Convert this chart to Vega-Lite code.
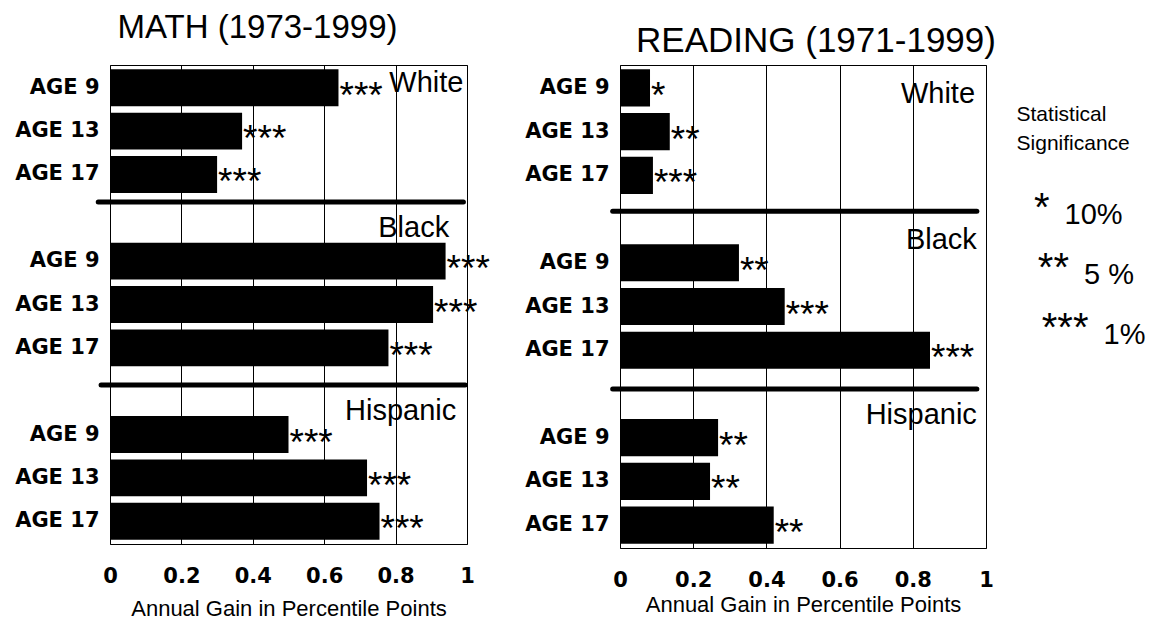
{
  "$schema": "https://vega.github.io/schema/vega-lite/v6.json",
  "background": "white",
  "padding": {"left": 14, "top": 11, "right": 0, "bottom": 0},
  "config": {
    "font": "Liberation Sans",
    "view": {"stroke": "black", "strokeWidth": 1},
    "text": {"color": "black"}
  },
  "datasets": {
    "math": [
      {"row": "White AGE 9", "gain": 0.64, "sig": "***"},
      {"row": "White AGE 13", "gain": 0.37, "sig": "***"},
      {"row": "White AGE 17", "gain": 0.30, "sig": "***"},
      {"row": "Black AGE 9", "gain": 0.94, "sig": "***"},
      {"row": "Black AGE 13", "gain": 0.905, "sig": "***"},
      {"row": "Black AGE 17", "gain": 0.78, "sig": "***"},
      {"row": "Hispanic AGE 9", "gain": 0.50, "sig": "***"},
      {"row": "Hispanic AGE 13", "gain": 0.72, "sig": "***"},
      {"row": "Hispanic AGE 17", "gain": 0.755, "sig": "***"}
    ],
    "reading": [
      {"row": "White AGE 9", "gain": 0.082, "sig": "*"},
      {"row": "White AGE 13", "gain": 0.136, "sig": "**"},
      {"row": "White AGE 17", "gain": 0.09, "sig": "***"},
      {"row": "Black AGE 9", "gain": 0.325, "sig": "**"},
      {"row": "Black AGE 13", "gain": 0.45, "sig": "***"},
      {"row": "Black AGE 17", "gain": 0.847, "sig": "***"},
      {"row": "Hispanic AGE 9", "gain": 0.268, "sig": "**"},
      {"row": "Hispanic AGE 13", "gain": 0.246, "sig": "**"},
      {"row": "Hispanic AGE 17", "gain": 0.42, "sig": "**"}
    ],
    "groups": [
      {"row": "White AGE 9", "label": "White"},
      {"row": "Black", "label": "Black"},
      {"row": "Hispanic", "label": "Hispanic"}
    ],
    "legend": [
      {"level": "head", "text": "Statistical\nSignificance"},
      {"level": "10%", "stars": "*", "n": 1},
      {"level": "5 %", "stars": "**", "n": 2},
      {"level": "1%", "stars": "***", "n": 3}
    ]
  },
  "bounds": "flush",
  "spacing": 153,
  "hconcat": [
    {
      "width": 357,
      "height": 479,
      "title": {"text": "MATH (1973-1999)", "fontSize": 33, "fontWeight": "normal", "font": "Liberation Sans", "color": "black", "baseline": "alphabetic", "offset": -6, "anchor": "middle", "frame": "group", "dx": -31},
      "layer": [
        {
          "data": {"name": "math"},
          "mark": {"type": "bar", "color": "black"},
          "encoding": {
            "y": {
              "field": "row", "type": "nominal",
              "scale": {"domain": ["White AGE 9", "White AGE 13", "White AGE 17", "Black", "Black AGE 9", "Black AGE 13", "Black AGE 17", "Hispanic", "Hispanic AGE 9", "Hispanic AGE 13", "Hispanic AGE 17"], "paddingInner": 0.15, "paddingOuter": 0.1},
              "axis": {"title": null, "domain": false, "ticks": false, "tickSize": 0, "grid": false, "labelFont": "DejaVu Sans", "labelFontWeight": "bold", "labelFontSize": 21, "labelColor": "black", "labelPadding": 11, "labelLimit": 0, "labelExpr": "indexof(datum.value, 'AGE') >= 0 ? substring(datum.value, indexof(datum.value, 'AGE')) : ''"}
            },
            "x": {
              "field": "gain", "type": "quantitative",
              "scale": {"domain": [0, 1], "nice": false},
              "axis": {"title": "Annual Gain in Percentile Points", "values": [0, 0.2, 0.4, 0.6, 0.8, 1], "format": "~g", "grid": true, "gridColor": "black", "gridWidth": 1, "gridOpacity": 1, "domain": false, "ticks": false, "tickSize": 0, "labelFlush": false, "labelFont": "DejaVu Sans", "labelFontWeight": "bold", "labelFontSize": 21, "labelColor": "black", "labelPadding": 21, "titleFont": "Liberation Sans", "titleFontWeight": "normal", "titleFontSize": 22, "titleColor": "black", "titlePadding": 12}
            }
          }
        },
        {
          "data": {"name": "math"},
          "mark": {"type": "text", "align": "left", "baseline": "alphabetic", "fontSize": 37, "dx": 1, "dy": 20},
          "encoding": {
            "y": {"field": "row", "type": "nominal"},
            "x": {"field": "gain", "type": "quantitative", "scale": {"domain": [0, 1], "nice": false}},
            "text": {"field": "sig"}
          }
        },
        {
          "data": {"name": "groups"},
          "transform": [{"filter": "datum.label == 'Black'"}],
          "mark": {"type": "rule", "color": "black", "strokeWidth": 5, "strokeCap": "round"},
          "encoding": {
            "y": {"field": "row", "type": "nominal", "bandPosition": 0.07},
            "x": {"datum": -0.033, "type": "quantitative", "scale": {"domain": [0, 1], "nice": false}},
            "x2": {"datum": 0.99}
          }
        },
        {
          "data": {"name": "groups"},
          "transform": [{"filter": "datum.label == 'Hispanic'"}],
          "mark": {"type": "rule", "color": "black", "strokeWidth": 5, "strokeCap": "round"},
          "encoding": {
            "y": {"field": "row", "type": "nominal", "bandPosition": 0.33},
            "x": {"datum": -0.025, "type": "quantitative", "scale": {"domain": [0, 1], "nice": false}},
            "x2": {"datum": 0.995}
          }
        },
        {
          "data": {"name": "groups"},
          "transform": [{"filter": "datum.label == 'White'"}],
          "mark": {"type": "text", "align": "right", "baseline": "middle", "fontSize": 29, "dy": -5},
          "encoding": {
            "y": {"field": "row", "type": "nominal"},
            "x": {"datum": 0.99, "type": "quantitative", "scale": {"domain": [0, 1], "nice": false}},
            "text": {"field": "label"}
          }
        },
        {
          "data": {"name": "groups"},
          "transform": [{"filter": "datum.label == 'Black'"}],
          "mark": {"type": "text", "align": "right", "baseline": "middle", "fontSize": 29, "dy": 10},
          "encoding": {
            "y": {"field": "row", "type": "nominal"},
            "x": {"datum": 0.95, "type": "quantitative", "scale": {"domain": [0, 1], "nice": false}},
            "text": {"field": "label"}
          }
        },
        {
          "data": {"name": "groups"},
          "transform": [{"filter": "datum.label == 'Hispanic'"}],
          "mark": {"type": "text", "align": "right", "baseline": "middle", "fontSize": 29, "dy": 20},
          "encoding": {
            "y": {"field": "row", "type": "nominal"},
            "x": {"datum": 0.97, "type": "quantitative", "scale": {"domain": [0, 1], "nice": false}},
            "text": {"field": "label"}
          }
        }
      ]
    },
    {
      "bounds": "flush",
      "spacing": 20,
      "hconcat": [
        {
          "width": 366,
          "height": 483,
          "title": {"text": "READING (1971-1999)", "fontSize": 35, "fontWeight": "normal", "font": "Liberation Sans", "color": "black", "baseline": "alphabetic", "offset": -22, "anchor": "middle", "frame": "group", "dx": 13},
          "layer": [
            {
              "data": {"name": "reading"},
              "mark": {"type": "bar", "color": "black"},
              "encoding": {
                "y": {
                  "field": "row", "type": "nominal",
                  "scale": {"domain": ["White AGE 9", "White AGE 13", "White AGE 17", "Black", "Black AGE 9", "Black AGE 13", "Black AGE 17", "Hispanic", "Hispanic AGE 9", "Hispanic AGE 13", "Hispanic AGE 17"], "paddingInner": 0.15, "paddingOuter": 0.1},
                  "axis": {"title": null, "domain": false, "ticks": false, "tickSize": 0, "grid": false, "labelFont": "DejaVu Sans", "labelFontWeight": "bold", "labelFontSize": 21, "labelColor": "black", "labelPadding": 11, "labelLimit": 0, "labelExpr": "indexof(datum.value, 'AGE') >= 0 ? substring(datum.value, indexof(datum.value, 'AGE')) : ''"}
                },
                "x": {
                  "field": "gain", "type": "quantitative",
                  "scale": {"domain": [0, 1], "nice": false},
                  "axis": {"title": "Annual Gain in Percentile Points", "values": [0, 0.2, 0.4, 0.6, 0.8, 1], "format": "~g", "grid": true, "gridColor": "black", "gridWidth": 1, "gridOpacity": 1, "domain": false, "ticks": false, "tickSize": 0, "labelFlush": false, "labelFont": "DejaVu Sans", "labelFontWeight": "bold", "labelFontSize": 21, "labelColor": "black", "labelPadding": 21, "titleFont": "Liberation Sans", "titleFontWeight": "normal", "titleFontSize": 22, "titleColor": "black", "titlePadding": 4}
                }
              }
            },
            {
              "data": {"name": "reading"},
              "mark": {"type": "text", "align": "left", "baseline": "alphabetic", "fontSize": 37, "dx": 1, "dy": 20},
              "encoding": {
                "y": {"field": "row", "type": "nominal"},
                "x": {"field": "gain", "type": "quantitative", "scale": {"domain": [0, 1], "nice": false}},
                "text": {"field": "sig"}
              }
            },
            {
              "data": {"name": "groups"},
              "transform": [{"filter": "datum.label == 'Black'"}],
              "mark": {"type": "rule", "color": "black", "strokeWidth": 5, "strokeCap": "round"},
              "encoding": {
                "y": {"field": "row", "type": "nominal", "bandPosition": 0.29},
                "x": {"datum": -0.02, "type": "quantitative", "scale": {"domain": [0, 1], "nice": false}},
                "x2": {"datum": 0.975}
              }
            },
            {
              "data": {"name": "groups"},
              "transform": [{"filter": "datum.label == 'Hispanic'"}],
              "mark": {"type": "rule", "color": "black", "strokeWidth": 5, "strokeCap": "round"},
              "encoding": {
                "y": {"field": "row", "type": "nominal", "bandPosition": 0.37},
                "x": {"datum": -0.02, "type": "quantitative", "scale": {"domain": [0, 1], "nice": false}},
                "x2": {"datum": 0.975}
              }
            },
            {
              "data": {"name": "groups"},
              "transform": [{"filter": "datum.label == 'White'"}],
              "mark": {"type": "text", "align": "right", "baseline": "middle", "fontSize": 29, "dy": 6},
              "encoding": {
                "y": {"field": "row", "type": "nominal"},
                "x": {"datum": 0.97, "type": "quantitative", "scale": {"domain": [0, 1], "nice": false}},
                "text": {"field": "label"}
              }
            },
            {
              "data": {"name": "groups"},
              "transform": [{"filter": "datum.label != 'White'"}],
              "mark": {"type": "text", "align": "right", "baseline": "middle", "fontSize": 29, "dy": 21},
              "encoding": {
                "y": {"field": "row", "type": "nominal"},
                "x": {"datum": 0.975, "type": "quantitative", "scale": {"domain": [0, 1], "nice": false}},
                "text": {"field": "label"}
              }
            }
          ]
        },
        {
          "width": 136.5,
          "height": 300,
          "view": {"stroke": null},
          "data": {"name": "legend"},
          "layer": [
            {
              "transform": [{"filter": "datum.level == 'head'"}],
              "mark": {"type": "text", "align": "left", "baseline": "top", "fontSize": 21, "lineHeight": 29, "lineBreak": "\n", "dy": -21},
              "encoding": {
                "x": {"datum": -1.46, "type": "quantitative", "scale": {"domain": [-2, 5], "nice": false, "zero": false}, "axis": null},
                "y": {"field": "level", "type": "nominal", "scale": {"domain": ["head", "10%", "5 %", "1%"], "padding": 1}, "axis": null},
                "text": {"field": "text"}
              }
            },
            {
              "transform": [{"filter": "datum.level != 'head'"}],
              "mark": {"type": "text", "align": "left", "baseline": "middle", "fontSize": 29, "dy": 30},
              "encoding": {
                "x": {"field": "n", "type": "quantitative", "scale": {"domain": [-2, 5], "nice": false, "zero": false}, "axis": null},
                "y": {"field": "level", "type": "nominal", "scale": {"domain": ["head", "10%", "5 %", "1%"], "padding": 1}, "axis": null},
                "text": {"field": "level"}
              }
            },
            {
              "transform": [{"filter": "datum.level != 'head'"}],
              "mark": {"type": "text", "align": "right", "baseline": "alphabetic", "fontSize": 40, "dx": -15, "dy": 36},
              "encoding": {
                "x": {"field": "n", "type": "quantitative", "scale": {"domain": [-2, 5], "nice": false, "zero": false}, "axis": null},
                "y": {"field": "level", "type": "nominal", "scale": {"domain": ["head", "10%", "5 %", "1%"], "padding": 1}, "axis": null},
                "text": {"field": "stars"}
              }
            }
          ]
        }
      ]
    }
  ]
}
